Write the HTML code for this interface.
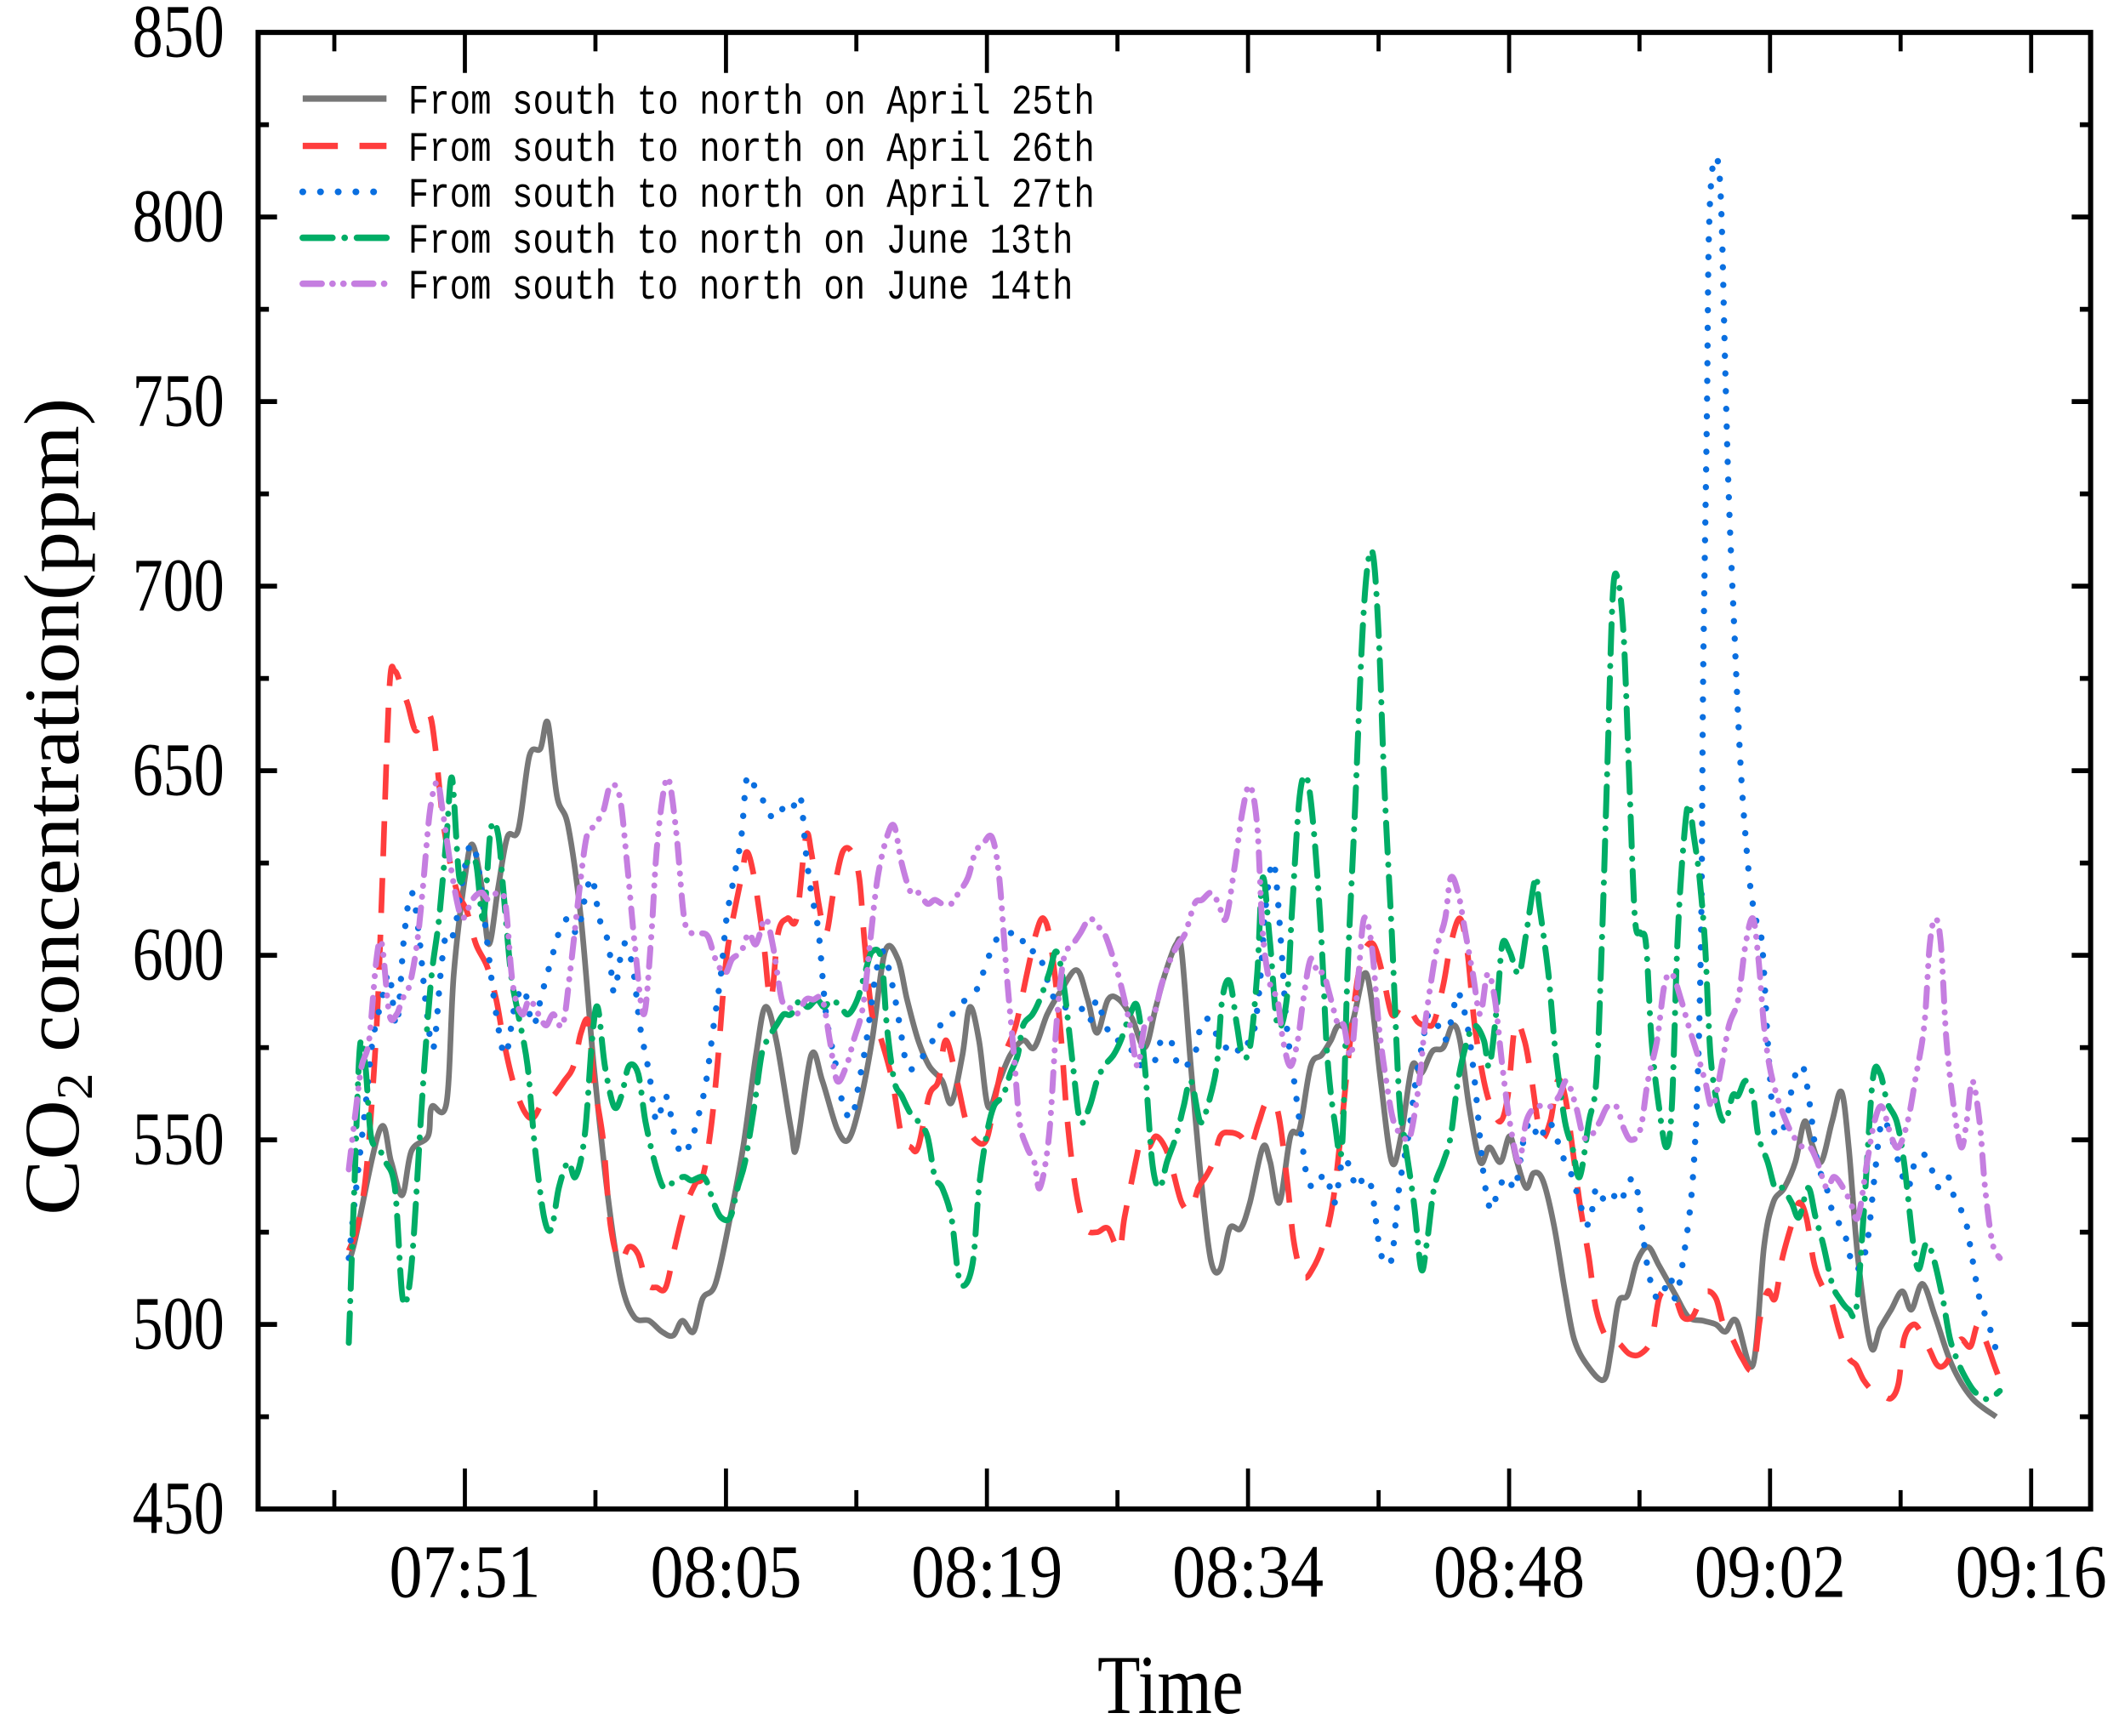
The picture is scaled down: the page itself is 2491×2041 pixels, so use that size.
<!DOCTYPE html>
<html><head><meta charset="utf-8"><style>
html,body{margin:0;padding:0;background:#fff;}
svg{display:block;}
text{font-family:"Liberation Serif","Noto Serif CJK SC",serif;fill:#000;}
.mono{font-family:"Liberation Mono","Noto Sans CJK SC",monospace;}
</style></head><body>
<svg id="chart" width="2491" height="2041" viewBox="0 0 1568 1285" preserveAspectRatio="none" xmlns="http://www.w3.org/2000/svg">
<g id="axes"></g>
<g id="series"></g>
<g id="legend"></g>
</svg>
<script>
// ---- data ----
const yTicks = [450,500,550,600,650,700,750,800,850];
const xTickLabels = ["07:51","08:05","08:19","08:34","08:48","09:02","09:16"];
const xTickMinutes = [51,65.17,79.33,93.5,107.67,121.83,136];
const seriesNames = ["From south to north on April 25th","From south to north on April 26th","From south to north on April 27th","From south to north on June 13th","From south to north on June 14th"];

const t25 = [44.7,45.0,46.4,47.0,47.6,48.1,49.0,49.2,50.0,50.4,51.0,51.4,51.9,52.3,52.8,53.3,53.9,54.5,55.1,55.5,56.0,56.6,57.3,58.0,58.8,59.5,60.2,61.0,61.7,62.3,62.8,63.4,63.9,64.6,65.4,66.1,66.8,67.3,67.9,68.7,69.0,69.8,70.4,71.2,71.8,72.4,73.1,73.8,74.5,75.0,75.6,76.2,76.9,77.4,78.0,78.4,78.9,79.4,80.0,80.6,81.3,81.9,82.6,83.3,84.2,84.8,85.3,85.9,86.5,87.2,87.9,88.5,89.0,89.6,89.9,90.4,91.0,91.5,92.0,92.5,93.1,93.6,94.3,94.7,95.2,95.8,96.3,96.9,97.5,98.0,98.4,99.1,99.8,100.2,100.7,101.3,101.8,102.4,102.9,103.5,104.1,104.6,105.0,105.5,106.1,106.6,107.2,107.7,108.1,108.6,109.0,109.5,110.1,110.7,111.2,111.9,112.8,113.2,113.6,114.1,114.6,115.2,115.8,116.7,117.4,118.2,118.9,119.4,120.0,120.9,121.5,122.0,122.6,123.2,123.7,124.1,124.6,125.2,125.7,126.1,126.6,127.3,127.8,128.4,129.0,129.5,130.1,130.8,131.7,132.8,134.1];
const v25 = [518,522,553,544,535,547,551,559,560,595,621,630,619,603,618,632,634,654,656,663,643,635,610,570,533,511,502,501,498,497,501,498,507,511,529,548,573,586,577,553,548,573,566,553,550,559,577,601,599,588,577,570,566,560,573,586,577,559,566,573,577,575,584,590,596,588,579,588,588,583,575,586,595,603,601,570,537,517,515,526,526,533,548,544,533,551,553,570,573,577,581,581,595,588,566,544,551,570,568,574,575,581,577,559,544,548,544,551,544,537,541,539,527,509,496,489,485,493,506,508,517,521,516,508,502,501,500,498,501,489,521,533,537,544,555,549,544,555,563,548,518,494,499,504,509,504,511,502,489,480,475];

const t26 = [44.7,45.2,45.7,46.2,46.5,46.9,47.2,47.6,47.9,48.3,48.7,49.1,49.4,49.8,50.2,50.6,51.1,51.6,52.2,52.7,53.1,53.6,54.2,54.7,55.3,55.8,56.4,56.9,57.3,57.7,58.0,58.5,58.9,59.4,59.9,60.4,60.9,61.4,61.9,62.4,62.9,63.5,63.9,64.3,64.7,65.1,65.4,66.0,66.3,66.7,67.2,67.6,68.0,68.5,69.0,69.5,69.8,70.2,70.6,71.0,71.5,72.0,72.4,72.7,73.1,73.6,74.2,74.7,75.2,75.6,76.2,76.7,77.1,77.7,78.2,78.7,79.3,79.8,80.3,80.9,81.5,82.0,82.4,82.8,83.3,83.7,84.2,84.7,85.3,85.9,86.5,86.8,87.4,87.7,88.1,88.5,89.0,89.4,89.9,90.4,90.8,91.2,91.6,92.0,92.5,93.1,93.6,94.1,94.5,95.1,95.6,96.0,96.5,97.0,97.6,98.1,98.5,98.9,99.4,99.8,100.3,100.8,101.3,101.8,102.2,102.7,103.2,103.6,104.1,104.5,105.0,105.4,105.8,106.3,106.7,107.2,107.6,108.0,108.5,108.9,109.4,109.9,110.3,110.7,111.1,111.5,112.0,112.4,113.0,113.6,114.2,114.8,115.4,115.8,116.2,116.7,117.1,117.6,118.0,118.4,118.9,119.3,119.8,120.3,120.9,121.3,121.7,122.1,122.5,123.0,123.4,123.8,124.2,124.6,125.1,125.6,126.1,126.5,126.9,127.4,127.9,128.4,128.8,129.1,129.6,130.0,130.5,130.9,131.3,131.8,132.2,132.7,133.1,133.5,134.0,134.3];
const v26 = [520,527,544,580,617,672,677,672,668,661,663,665,656,637,625,617,612,603,597,588,577,566,558,556,561,562,566,570,579,582,566,550,527,517,521,519,511,510,510,521,531,538,540,551,570,595,606,621,628,621,604,588,606,610,610,632,628,614,606,617,628,628,621,603,584,577,566,551,548,548,562,566,577,566,555,550,550,562,573,581,595,606,610,603,581,555,535,526,525,526,520,529,544,550,548,551,548,542,533,531,537,540,544,551,552,551,548,555,560,558,540,522,513,515,522,533,550,570,592,601,603,595,584,586,586,582,581,582,592,603,610,601,581,566,559,555,562,581,577,566,551,555,566,562,548,533,518,504,496,495,492,492,496,507,509,507,502,502,506,509,507,500,496,491,488,502,509,507,518,527,533,529,517,511,507,498,491,489,485,482,481,480,484,496,500,498,493,489,489,493,496,494,500,496,489,485];

const t27 = [44.7,45.1,45.6,46.0,46.5,46.9,47.3,47.7,48.1,48.5,48.9,49.3,49.7,50.0,50.4,50.9,51.3,51.7,52.2,52.7,53.2,53.7,54.2,54.7,55.2,55.7,56.1,56.6,57.1,57.5,57.9,58.3,58.8,59.1,59.6,60.1,60.5,61.0,61.4,61.9,62.4,62.8,63.3,63.8,64.1,64.5,64.9,65.2,65.6,66.0,66.3,66.7,67.1,67.4,67.9,68.3,68.7,69.2,69.5,69.8,70.2,70.6,71.1,71.5,72.0,72.4,72.8,73.3,73.7,74.2,74.6,75.0,75.5,75.9,76.4,76.8,77.2,77.7,78.2,78.7,79.1,79.7,80.2,80.6,81.1,81.5,82.1,82.5,83.0,83.4,83.8,84.4,84.9,85.3,85.7,86.2,86.6,87.1,87.5,87.9,88.4,88.8,89.3,89.7,90.1,90.6,91.0,91.5,91.9,92.3,92.8,93.2,93.7,94.1,94.5,94.9,95.3,95.6,96.0,96.4,96.7,97.1,97.5,97.8,98.2,98.6,98.9,99.4,99.8,100.2,100.6,100.9,101.3,101.7,102.2,102.6,103.0,103.3,103.8,104.2,104.6,104.9,105.4,105.8,106.3,106.7,107.1,107.6,108.0,108.5,108.9,109.3,109.8,110.2,110.7,111.1,111.5,112.0,112.4,112.9,113.3,113.7,114.2,114.6,115.1,115.5,115.9,116.4,116.7,117.1,117.6,117.9,118.1,118.2,118.4,118.5,118.7,119.0,119.2,119.4,119.6,119.9,120.2,120.5,120.8,121.1,121.4,121.7,122.0,122.2,122.7,123.1,123.6,124.0,124.4,124.9,125.3,125.8,126.2,126.6,127.1,127.5,127.9,128.4,128.8,129.3,129.7,130.2,130.6,131.0,131.5,131.9,132.4,132.8,133.2,133.7,134.1,134.3];
const v27 = [518,537,559,577,588,595,581,605,617,606,586,575,596,606,606,621,630,625,604,584,573,586,591,581,590,599,606,610,606,615,621,610,603,590,603,597,581,568,555,562,551,546,550,559,566,581,595,610,621,632,648,646,643,639,637,640,639,643,628,617,606,584,571,560,556,566,577,595,601,592,581,570,570,573,577,581,582,586,588,590,595,603,606,606,606,601,601,595,588,586,586,586,582,588,582,577,577,575,571,570,571,577,577,570,570,573,582,582,577,575,573,577,577,590,615,625,603,581,566,551,540,537,540,540,533,544,544,537,540,537,522,517,518,537,551,566,577,584,581,577,584,590,581,566,540,531,537,540,537,551,555,550,555,551,544,540,533,527,537,533,535,533,539,537,518,509,507,513,507,517,537,566,610,676,745,793,813,815,800,758,723,687,654,632,617,609,603,577,555,551,555,566,570,559,544,537,529,526,518,515,522,540,555,551,544,537,544,546,542,537,540,533,529,518,507,500,493,490];

const t13 = [44.7,45.0,45.3,45.6,45.9,46.3,46.7,47.2,47.6,47.9,48.2,48.6,48.9,49.2,49.6,50.0,50.3,50.7,51.1,51.6,52.0,52.4,52.8,53.1,53.5,53.9,54.4,54.8,55.3,55.7,56.1,56.6,57.0,57.5,57.9,58.2,58.6,59.1,59.5,59.9,60.4,60.8,61.3,61.8,62.4,62.9,63.3,63.8,64.1,64.5,64.9,65.4,65.8,66.2,66.7,67.1,67.4,67.9,68.3,68.7,69.2,69.6,70.1,70.5,70.9,71.4,71.8,72.3,72.7,73.1,73.6,73.9,74.3,74.7,75.2,75.6,76.1,76.5,76.9,77.4,77.8,78.2,78.6,78.9,79.3,79.7,80.2,80.6,81.0,81.3,81.8,82.2,82.7,83.1,83.5,84.0,84.4,84.9,85.3,85.7,86.2,86.6,87.1,87.5,87.9,88.3,88.7,89.1,89.6,90.0,90.4,90.9,91.3,91.8,92.1,92.5,92.9,93.2,93.6,94.0,94.3,94.7,95.1,95.6,95.9,96.3,96.7,97.1,97.5,97.8,98.2,98.6,98.9,99.3,99.7,100.0,100.3,100.6,100.9,101.3,101.7,102.0,102.5,102.9,103.2,103.6,104.1,104.5,104.9,105.4,105.8,106.3,106.6,107.0,107.3,107.7,108.2,108.6,109.1,109.3,109.8,110.2,110.7,111.1,111.5,112.0,112.4,112.7,113.0,113.3,113.6,113.9,114.2,114.5,114.8,115.1,115.4,115.8,116.2,116.5,116.8,117.1,117.4,117.7,118.0,118.3,118.6,119.0,119.4,119.8,120.1,120.5,120.9,121.2,121.7,122.1,122.5,123.0,123.4,123.9,124.3,124.7,125.2,125.6,126.1,126.5,126.9,127.4,127.8,128.2,128.7,129.1,129.6,129.9,130.3,130.7,131.2,131.6,132.1,132.5,132.9,133.4,133.8,134.3];
const v13 = [495,537,575,570,551,548,544,537,508,508,522,555,577,595,610,632,648,621,625,625,610,634,633,617,595,584,570,548,529,526,537,544,540,551,577,586,570,559,562,570,568,555,544,537,539,540,539,540,539,533,529,529,537,544,559,573,577,581,584,584,588,586,588,586,588,586,584,588,595,601,599,581,566,562,557,555,551,540,537,529,513,511,518,537,551,559,562,568,573,581,584,588,595,601,592,570,555,559,566,570,573,577,584,586,570,544,537,544,551,559,566,555,559,570,588,593,581,573,575,595,621,603,581,588,613,643,648,632,603,573,555,548,595,639,686,706,708,686,646,606,562,550,533,515,522,537,544,551,566,577,581,577,570,586,603,601,595,606,621,614,595,573,555,548,540,555,566,603,651,698,701,685,646,610,606,603,577,559,548,559,603,628,641,632,621,603,573,559,555,562,562,566,562,551,544,537,537,533,529,537,529,522,511,507,504,504,529,566,568,560,555,544,522,515,522,518,507,496,489,485,482,480,480,482];

const t14 = [44.7,45.1,45.4,45.8,46.2,46.5,46.9,47.3,47.6,48.0,48.4,48.7,49.1,49.5,49.8,50.2,50.6,50.9,51.4,51.9,52.3,52.8,53.2,53.6,54.1,54.5,55.0,55.4,55.8,56.3,56.7,57.2,57.6,58.0,58.5,58.9,59.4,59.8,60.2,60.7,61.1,61.4,61.8,62.1,62.5,62.9,63.3,63.8,64.2,64.6,65.1,65.5,66.0,66.4,66.8,67.3,67.7,68.2,68.6,69.0,69.5,69.9,70.4,70.8,71.2,71.7,72.1,72.6,73.0,73.4,73.9,74.3,74.7,75.2,75.6,76.1,76.5,76.9,77.4,77.8,78.3,78.7,79.1,79.6,80.0,80.4,80.8,81.1,81.5,81.9,82.2,82.7,83.1,83.5,84.0,84.4,84.9,85.3,85.7,86.2,86.6,87.1,87.5,87.9,88.4,88.8,89.3,89.7,90.1,90.6,91.0,91.5,91.9,92.3,92.8,93.2,93.6,94.0,94.3,94.7,95.1,95.4,95.8,96.2,96.5,96.9,97.3,97.6,98.0,98.4,98.7,99.1,99.5,99.8,100.2,100.6,101.0,101.4,101.9,102.3,102.8,103.1,103.5,103.8,104.2,104.5,104.9,105.3,105.7,106.1,106.5,106.9,107.3,107.7,108.2,108.6,109.1,109.5,109.9,110.4,110.8,111.3,111.7,112.1,112.6,113.0,113.5,113.9,114.3,114.8,115.2,115.7,116.1,116.5,117.0,117.4,117.9,118.3,118.7,119.2,119.6,120.1,120.5,120.9,121.2,121.5,121.8,122.2,122.7,123.1,123.6,124.0,124.4,124.9,125.3,125.8,126.2,126.6,127.1,127.5,127.9,128.4,128.8,129.3,129.7,130.2,130.5,130.8,131.1,131.4,131.8,132.2,132.5,132.8,133.2,133.5,133.9,134.3];
const v14 = [542,559,570,577,599,603,584,584,588,592,603,617,639,647,639,625,614,610,615,617,615,617,614,592,584,588,584,581,584,581,595,617,632,635,639,646,643,625,604,584,604,628,645,647,632,610,606,606,605,599,595,599,601,606,603,610,603,588,586,584,588,588,588,577,566,570,577,586,604,621,632,635,625,617,617,614,615,614,614,617,621,628,630,632,621,595,573,555,548,544,537,551,581,599,603,606,610,608,606,599,592,581,570,581,584,592,599,603,606,614,615,617,614,610,625,639,646,635,606,592,588,577,570,577,588,599,595,595,588,581,581,573,595,610,603,581,566,555,551,551,566,581,595,603,610,621,617,606,595,584,595,588,570,555,544,555,559,559,559,562,566,559,551,551,555,559,559,553,550,553,566,577,592,595,588,581,573,566,559,570,581,588,603,610,599,581,570,562,555,551,548,548,544,537,540,537,533,529,544,555,559,551,548,555,566,581,603,610,603,577,559,548,555,566,555,537,522,518];

// ---- scales ----
const PL=191, PR=1547, PT=24, PB=1117;
const X0=51, X1=136, XP0=344, XP1=1503;
const Y0=450, Y1=850;
function sx(t){ return XP0 + (t-X0)*(XP1-XP0)/(X1-X0); }
function sy(v){ return PB - (v-Y0)*(PB-PT)/(Y1-Y0); }

const NS="http://www.w3.org/2000/svg";
function mk(tag, attrs, parent){
  const e=document.createElementNS(NS,tag);
  for(const k in attrs) e.setAttribute(k,attrs[k]);
  parent.appendChild(e); return e;
}
const axes=document.getElementById('axes');
const seriesG=document.getElementById('series');
const legend=document.getElementById('legend');

function smoothPath(P){
  let d='M'+P[0][0].toFixed(1)+' '+P[0][1].toFixed(1);
  for(let i=0;i<P.length-1;i++){
    const p0=P[Math.max(0,i-1)], p1=P[i], p2=P[i+1], p3=P[Math.min(P.length-1,i+2)];
    const c1x=p1[0]+(p2[0]-p0[0])/6, c1y=p1[1]+(p2[1]-p0[1])/6;
    const c2x=p2[0]-(p3[0]-p1[0])/6, c2y=p2[1]-(p3[1]-p1[1])/6;
    d+='C'+c1x.toFixed(1)+' '+c1y.toFixed(1)+' '+c2x.toFixed(1)+' '+c2y.toFixed(1)+' '+p2[0].toFixed(1)+' '+p2[1].toFixed(1);
  }
  return d;
}

// series
const styles = [
  {c:'#777777', w:4.2, d:'none', cap:'butt'},
  {c:'#ff3d3d', w:4.2, d:'26 16', cap:'butt'},
  {c:'#0a6fe0', w:4.6, d:'0.1 13', cap:'round'},
  {c:'#00ad66', w:4.4, d:'22 9 0.1 9', cap:'round'},
  {c:'#c57ee0', w:4.4, d:'14 8 0.1 8 0.1 8', cap:'round'}
];
const allT=[t25,t26,t27,t13,t14], allV=[v25,v26,v27,v13,v14];
const seriesKeys=['series-april-25','series-april-26','series-april-27','series-june-13','series-june-14'];
for(let s=0;s<5;s++){
  const T=allT[s], V=allV[s];
  const n=Math.min(T.length,V.length);
  const P=[];
  for(let i=0;i<n;i++) P.push([sx(T[i]),sy(V[i])]);
  const p=mk('path',{d:smoothPath(P),fill:'none',stroke:styles[s].c,'stroke-width':styles[s].w,'stroke-dasharray':styles[s].d,'stroke-linecap':styles[s].cap,'stroke-linejoin':'round'},seriesG);
  
  
}

// frame
const frame=mk('rect',{x:PL,y:PT,width:PR-PL,height:PB-PT,fill:'none',stroke:'#000','stroke-width':3.8},axes);



// y ticks
for(let i=0;i<yTicks.length;i++){
  const y=sy(yTicks[i]);
  if(i>0 && i<yTicks.length-1){
    mk('line',{x1:PL,x2:PL+14,y1:y,y2:y,stroke:'#000','stroke-width':3.6},axes);
    mk('line',{x1:PR,x2:PR-14,y1:y,y2:y,stroke:'#000','stroke-width':3.6},axes);
  }
  if(i<yTicks.length-1){
    const ym=sy(yTicks[i]+25);
    mk('line',{x1:PL,x2:PL+8,y1:ym,y2:ym,stroke:'#000','stroke-width':3.6},axes);
    mk('line',{x1:PR,x2:PR-8,y1:ym,y2:ym,stroke:'#000','stroke-width':3.6},axes);
  }
  const tl=mk('text',{x:166,y:y+18,'text-anchor':'end','font-size':56,textLength:68,lengthAdjust:'spacingAndGlyphs'},axes);
  tl.textContent=String(yTicks[i]);
  
  
}
// x ticks
for(let i=0;i<xTickMinutes.length;i++){
  const x=sx(xTickMinutes[i]);
  mk('line',{x1:x,x2:x,y1:PB,y2:PB-30,stroke:'#000','stroke-width':3},axes);
  mk('line',{x1:x,x2:x,y1:PT,y2:PT+30,stroke:'#000','stroke-width':3},axes);
  const xm=sx(xTickMinutes[i]-(xTickMinutes[1]-xTickMinutes[0])/2);
  mk('line',{x1:xm,x2:xm,y1:PB,y2:PB-14,stroke:'#000','stroke-width':3},axes);
  mk('line',{x1:xm,x2:xm,y1:PT,y2:PT+14,stroke:'#000','stroke-width':3},axes);
  const tl=mk('text',{x:x,y:1182,'text-anchor':'middle','font-size':56,textLength:112,lengthAdjust:'spacingAndGlyphs'},axes);
  tl.textContent=xTickLabels[i];
  
  
}
// axis titles
const xt=mk('text',{x:866,y:1268,'text-anchor':'middle','font-size':62,textLength:108,lengthAdjust:'spacingAndGlyphs'},axes);
xt.textContent='Time';


const yt=mk('text',{transform:'translate(58,597) rotate(-90)','text-anchor':'middle','font-size':58,textLength:605,lengthAdjust:'spacingAndGlyphs'},axes);
yt.innerHTML='CO<tspan font-size="38" dy="10">2</tspan><tspan dy="-10"> concentration(ppm)</tspan>';



// legend
const legY=[73,108,142,176,210];
for(let i=0;i<5;i++){
  const ln=mk('line',{x1:224,x2:286,y1:legY[i],y2:legY[i],stroke:styles[i].c,'stroke-width':styles[i].w+0.4,'stroke-dasharray':styles[i].d,'stroke-linecap':styles[i].cap},legend);
  
  
  const tx=mk('text',{x:302,y:legY[i]+11,'font-size':31,'class':'mono',textLength:i<3?508:492,lengthAdjust:'spacingAndGlyphs'},legend);
  tx.textContent=seriesNames[i];
  
  
}
</script>
</body></html>
